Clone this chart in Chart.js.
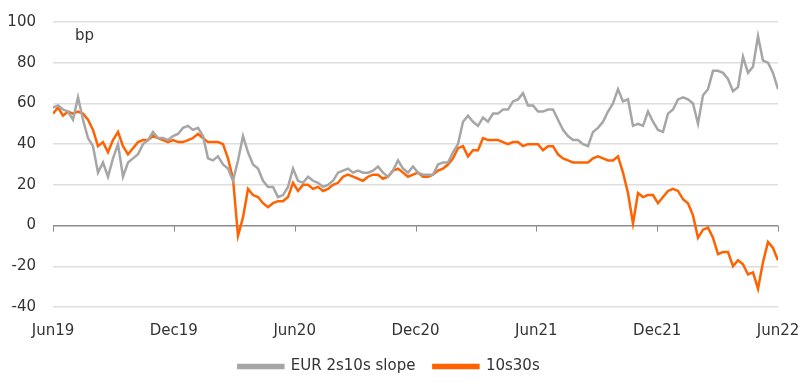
<!DOCTYPE html>
<html>
<head>
<meta charset="utf-8">
<script src="https://cdn.jsdelivr.net/npm/chart.js@4.4.0/dist/chart.umd.min.js"></script>
<style>
html,body{margin:0;padding:0;background:#fff;}
#wrap{width:800px;height:391px;position:relative;}
</style>
</head>
<body>
<div id="wrap"><canvas id="c" width="800" height="391"></canvas></div>
<script>
// Tick labels for the x axis (every 6 months)
const tickLabels = ["Jun19","Dec19","Jun20","Dec20","Jun21","Dec21","Jun22"];
const seriesNames = ["EUR 2s10s slope","10s30s"];
const unitLabel = "bp";

// EUR 2s10s slope (bp), evenly spaced Jun19 -> Jun22
const slope2s10s = [
58,59,57,56,52,63,52,43,39,26,31,24,33,40,24,31,33,35,40,42,
46,43,43,42,44,45,48,49,47,48,44,33,32,34,30,28,22,32,44,36,
30,28,22,19,19,14,15,19,28,22,21,24,22,21,19,20,22,26,27,28,
26,27,26,26,27,29,26,24,27,32,28,26,29,26,25,25,25,30,31,31,
36,40,51,54,51,49,53,51,55,55,57,57,61,62,65,59,59,56,56,57,
57,52,47,44,42,42,40,39,46,48,51,56,60,67,61,62,49,50,49,56,
51,47,46,55,57,62,63,62,60,50,64,67,76,76,75,72,66,68,83,75,
78,93,81,80,75,67
];
// 10s30s (bp)
const slope10s30s = [
55,58,54,56,55,56,55,52,47,39,41,36,42,46,39,35,38,41,42,42,
44,43,42,41,42,41,41,42,43,45,43,41,41,41,40,33,23,-5,4,18,
15,14,11,9,11,12,12,14,21,17,20,20,18,19,17,18,20,21,24,25,
24,23,22,24,25,25,23,24,27,28,26,24,25,26,24,24,25,27,28,30,
33,38,39,34,37,37,43,42,42,42,41,40,41,41,39,40,40,40,37,39,
39,35,33,32,31,31,31,31,33,34,33,32,32,34,26,16,1,16,14,15,
15,11,14,17,18,17,13,11,5,-6,-2,-1,-6,-14,-13,-13,-20,-17,-19,-24,
-23,-31,-18,-8,-11,-17
];

const totalMonths = 36;
const toPoints = arr => arr.map((v, i) => ({x: i * totalMonths / (arr.length - 1), y: v}));

const FONT = "'DejaVu Sans', sans-serif";
const TEXT = "#333333";

const extras = {
  id: 'extras',
  afterDraw(chart) {
    const {ctx, chartArea, scales} = chart;
    const xs = scales.x, ys = scales.y;
    const y0 = ys.getPixelForValue(0);
    ctx.save();
    ctx.strokeStyle = '#8c8c8c';
    ctx.lineWidth = 1;
    for (let m = 0; m <= totalMonths; m += 6) {
      const px = Math.round(xs.getPixelForValue(m)) + 0.5;
      ctx.beginPath();
      ctx.moveTo(px, y0);
      ctx.lineTo(px, y0 + 6);
      ctx.stroke();
    }
    ctx.fillStyle = TEXT;
    ctx.font = "15px " + FONT;
    ctx.textBaseline = 'middle';
    ctx.fillText(unitLabel, chartArea.left + 22, chartArea.top + 14);
    ctx.restore();
  }
};

new Chart(document.getElementById('c'), {
  type: 'line',
  data: {
    datasets: [
      {label: seriesNames[0], data: toPoints(slope2s10s), borderColor: '#a6a6a6', backgroundColor: '#a6a6a6', borderWidth: 2.5, pointRadius: 0, tension: 0},
      {label: seriesNames[1], data: toPoints(slope10s30s), borderColor: '#ff6200', backgroundColor: '#ff6200', borderWidth: 2.5, pointRadius: 0, tension: 0}
    ]
  },
  options: {
    responsive: false,
    animation: false,
    layout: {padding: {top: 22, right: 22, left: 0, bottom: 7}},
    plugins: {
      legend: {
        position: 'bottom',
        labels: {boxWidth: 45, boxHeight: 3, padding: 18, color: TEXT, font: {family: FONT, size: 15}}
      },
      tooltip: {enabled: false}
    },
    scales: {
      x: {
        type: 'linear', min: 0, max: totalMonths,
        grid: {display: false, drawTicks: false},
        border: {display: false},
        ticks: {stepSize: 6, padding: 15, color: TEXT, font: {family: FONT, size: 15}, maxRotation: 0,
          callback: v => tickLabels[Math.round(v / 6)]},
        afterFit: s => { s.height = 34; s.paddingLeft = 0; s.paddingRight = 0; }
      },
      y: {
        min: -40, max: 100,
        grid: {drawTicks: false, lineWidth: 1.5, color: c => c.tick && c.tick.value === 0 ? '#8c8c8c' : '#dedede'},
        border: {display: false},
        ticks: {stepSize: 20, padding: 17, color: TEXT, font: {family: FONT, size: 15}},
        afterFit: s => { s.width = 53; s.paddingTop = 0; s.paddingBottom = 0; }
      }
    }
  },
  plugins: [extras]
});
</script>
</body>
</html>
